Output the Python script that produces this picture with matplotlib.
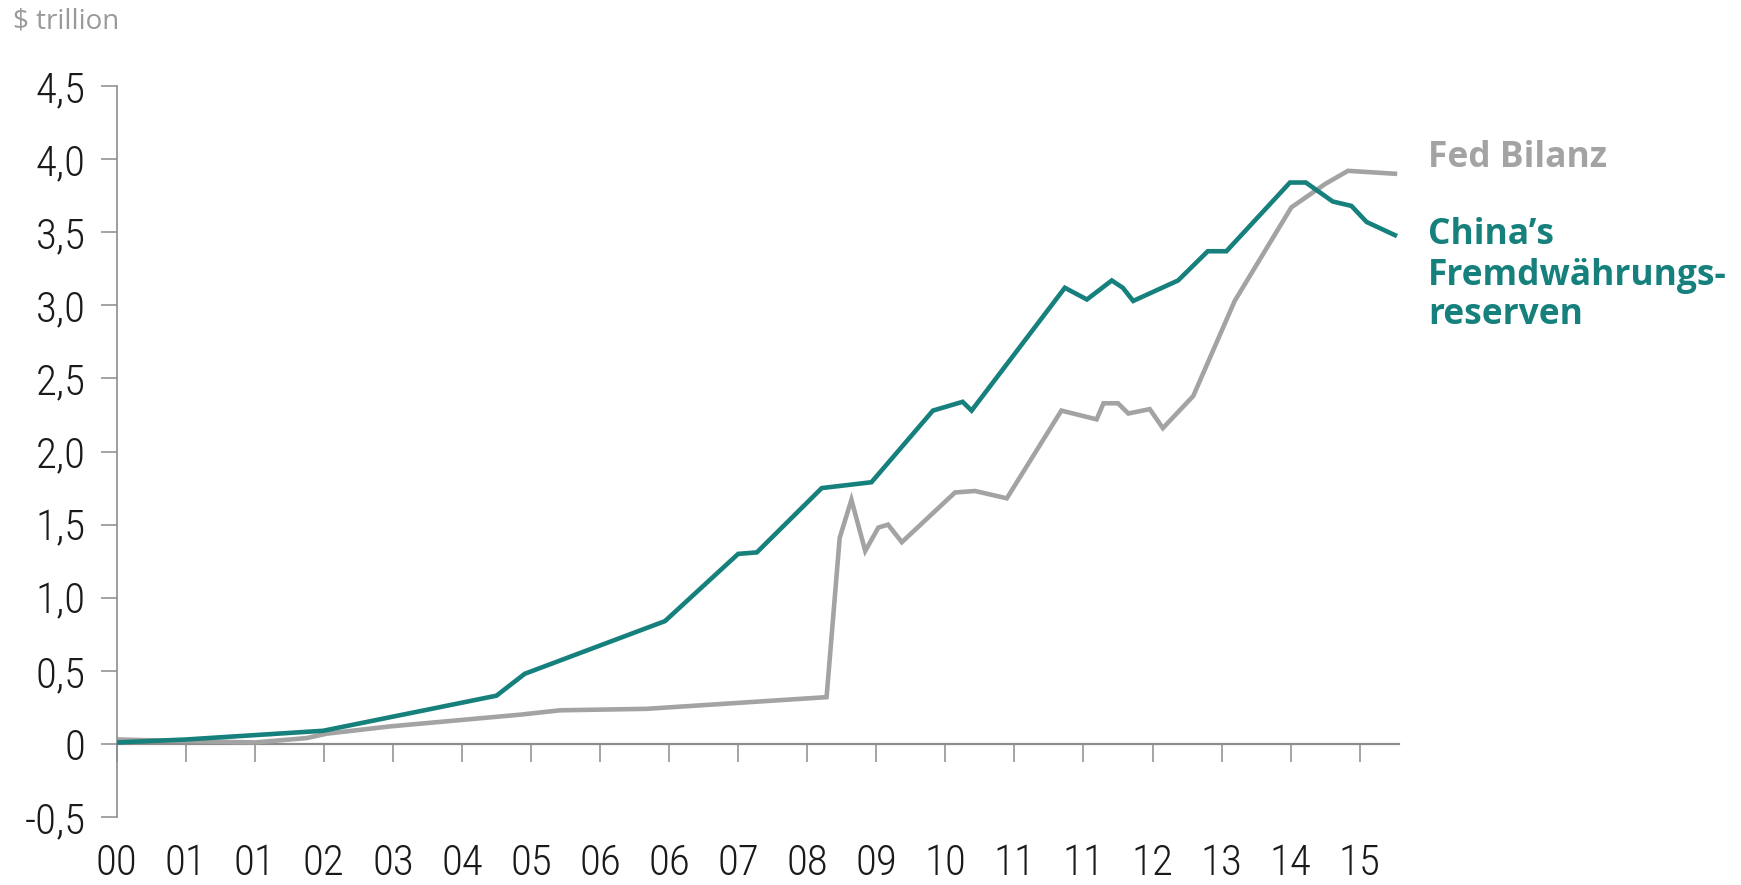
import matplotlib
matplotlib.use("Agg")
import matplotlib.pyplot as plt

# ---- data (x in tick-index units, y in $ trillion) ----
x_labels = ['00', '01', '01', '02', '03', '04', '05', '06', '06', '07',
            '08', '09', '10', '11', '11', '12', '13', '14', '15']
y_ticks = [-0.5, 0, 0.5, 1.0, 1.5, 2.0, 2.5, 3.0, 3.5, 4.0, 4.5]
y_tick_labels = ['-0,5', '0', '0,5', '1,0', '1,5', '2,0', '2,5', '3,0', '3,5', '4,0', '4,5']

china_x = [0.0, 0.99, 2.99, 5.50, 5.91, 7.94, 9.00, 9.27, 10.21, 10.93, 11.82,
           12.25, 12.38, 13.73, 14.05, 14.41, 14.57, 14.72, 15.37, 15.80, 16.07,
           16.99, 17.22, 17.61, 17.88, 18.10, 18.51]
china_y = [0.01, 0.03, 0.09, 0.33, 0.48, 0.84, 1.30, 1.31, 1.75, 1.79, 2.28,
           2.34, 2.28, 3.12, 3.04, 3.17, 3.12, 3.03, 3.17, 3.37, 3.37,
           3.84, 3.84, 3.71, 3.68, 3.57, 3.48]

fed_x = [0.04, 0.99, 2.0, 2.75, 3.04, 3.96, 5.84, 6.42, 7.67, 10.28, 10.47,
         10.64, 10.84, 11.03, 11.17, 11.37, 12.14, 12.43, 12.89, 13.68, 14.19,
         14.29, 14.50, 14.65, 14.96, 15.15, 15.59, 16.19, 17.01, 17.50, 17.83, 18.51]
fed_y = [0.03, 0.02, 0.01, 0.04, 0.07, 0.12, 0.20, 0.23, 0.24, 0.32, 1.41,
         1.67, 1.32, 1.48, 1.50, 1.38, 1.72, 1.73, 1.68, 2.28, 2.22,
         2.33, 2.33, 2.26, 2.29, 2.16, 2.38, 3.03, 3.67, 3.83, 3.92, 3.90]

TEAL = '#15807C'
GRAY = '#A3A3A3'
AXC = '#8C8C8C'

tick_font = ['Roboto Condensed', 'Liberation Sans Narrow', 'Liberation Sans', 'DejaVu Sans']
label_font = ['Open Sans', 'Lato', 'DejaVu Sans']

fig = plt.figure(figsize=(17.41, 8.85), dpi=100)
ax = fig.add_axes([0.0670, 0.0768, 0.7366, 0.826])

ax.plot(fed_x, fed_y, color=GRAY, lw=3.3, solid_joinstyle='miter', zorder=2)
ax.plot(china_x, china_y, color=TEAL, lw=3.3, solid_joinstyle='miter', zorder=3)

ax.set_xlim(0, 18.57)
ax.set_ylim(-0.5, 4.5)

for s in ['top', 'right']:
    ax.spines[s].set_visible(False)
ax.spines['left'].set_color(AXC)
ax.spines['left'].set_linewidth(1.2)
ax.spines['bottom'].set_position(('data', 0))
ax.spines['bottom'].set_color(AXC)
ax.spines['bottom'].set_linewidth(1.6)
ax.spines['bottom'].set_zorder(1)

ax.set_xticks(range(len(x_labels)))
ax.set_xticklabels(x_labels, fontfamily=tick_font, fontsize=31, fontweight='light',
                   color='#1a1a1a')
ax.set_yticks(y_ticks)
ax.set_yticklabels(y_tick_labels, fontfamily=tick_font, fontsize=31, fontweight='light',
                   color='#1a1a1a')

ax.tick_params(axis='x', direction='out', length=13, width=1.1, color=AXC, pad=58)
ax.tick_params(axis='y', direction='out', length=11.5, width=1.1, color=AXC, pad=11)

fig.text(13 / 1741, 1 - 29 / 885, '$ trillion', fontfamily=label_font, fontsize=20,
         color='#9A9A9A', ha='left', va='baseline')

fig.text(1428 / 1741, 1 - 167 / 885, 'Fed Bilanz', fontfamily=label_font, fontsize=25.5,
         fontweight='bold', color=GRAY, ha='left', va='baseline')
for txt, base in [('China\u2019s', 244), ('Fremdw\u00e4hrungs-', 285), ('reserven', 324)]:
    fig.text(1428 / 1741, 1 - base / 885, txt, fontfamily=label_font, fontsize=25.5,
             fontweight='bold', color=TEAL, ha='left', va='baseline')

fig.savefig('out.png', dpi=100, facecolor='white')
